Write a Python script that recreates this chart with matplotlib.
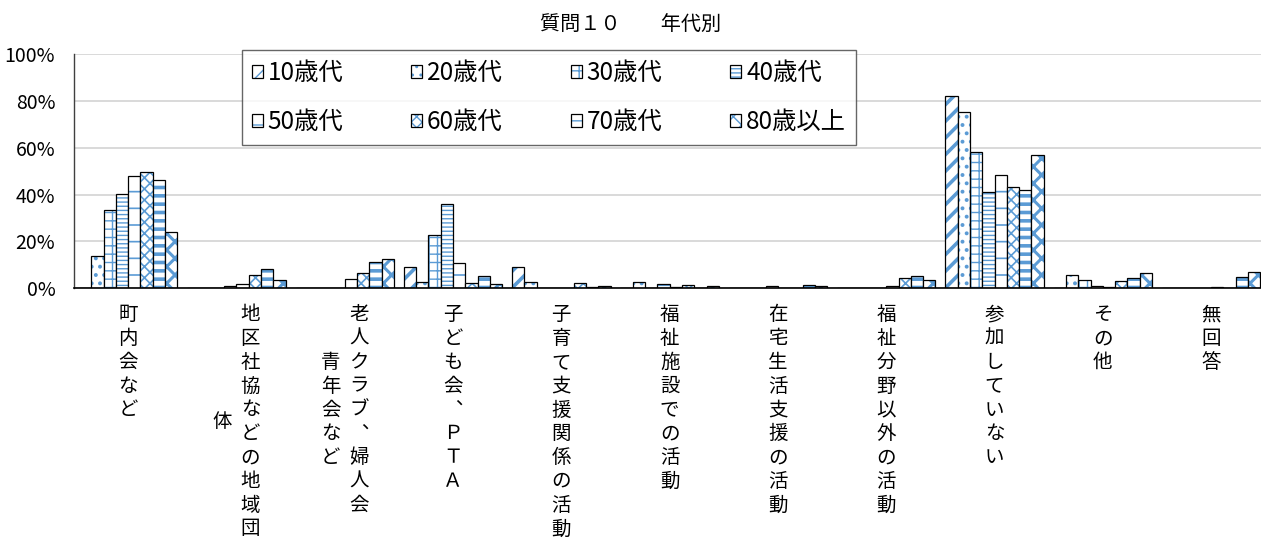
import matplotlib
matplotlib.use("Agg")
import matplotlib.pyplot as plt
import numpy as np

plt.rcParams["font.family"] = ["Noto Sans CJK JP", "DejaVu Sans"]

# 横軸の項目 (\n は縦書きラベルの改列位置)
CATEGORIES = [
    "町内会など",
    "地区社協などの地域団\n体",
    "老人クラブ、婦人会\n青年会など",
    "子ども会、ＰＴＡ",
    "子育て支援関係の活動",
    "福祉施設での活動",
    "在宅生活支援の活動",
    "福祉分野以外の活動",
    "参加していない",
    "その他",
    "無回答",
]
AGE_GROUPS = ["10歳代", "20歳代", "30歳代", "40歳代", "50歳代", "60歳代", "70歳代", "80歳以上"]

# 各年代の割合 (%)
AGE_10 = [0, 0, 0, 9.2, 9.2, 0, 0, 0, 82.0, 0, 0]
AGE_20 = [13.8, 0, 0, 2.8, 2.8, 2.8, 0, 0, 75.1, 5.5, 0]
AGE_30 = [33.3, 0, 0, 22.9, 0, 0, 0, 0, 58.1, 3.5, 0]
AGE_40 = [40.3, 1.0, 0, 36.1, 0, 1.8, 1.0, 0, 41.2, 1.0, 0]
AGE_50 = [47.8, 1.8, 3.8, 10.7, 0, 0.7, 0, 0.8, 48.5, 0.7, 0.7]
AGE_60 = [49.5, 5.7, 6.4, 2.4, 2.1, 1.4, 0, 4.4, 43.1, 3.1, 0]
AGE_70 = [46.3, 8.1, 11.4, 5.2, 0.6, 0, 1.4, 5.1, 41.8, 4.2, 4.7]
AGE_80 = [24.1, 3.5, 12.4, 1.8, 1.0, 1.0, 1.1, 3.6, 57.0, 6.4, 6.8]
SERIES = [AGE_10, AGE_20, AGE_30, AGE_40, AGE_50, AGE_60, AGE_70, AGE_80]
Y_TICKS = [0, 20, 40, 60, 80, 100]

BLUE = "#5B9BD5"
HATCHES = ["//", "..", "++", "----", "-", "xxx", "--", "xx"]
HATCH_LW = [2.6, 1.6, 1.0, 1.0, 1.2, 1.2, 2.6, 2.2]
BAR_W = 0.1136
PITCH = 23.8  # 縦書きの文字送り (px)
COL_GAP = 28  # 縦書きの列間隔 (px)


def vertical_label(ax, i, text):
    cols = text.split("\n")
    longest = max(len(c) for c in cols)
    for j, col in enumerate(cols):
        dx = ((len(cols) - 1) / 2 - j) * COL_GAP
        shift = (longest - len(col)) * PITCH / 2
        for k, ch in enumerate(col):
            ax.annotate(ch.replace("、", "︑"), xy=(i, 0), xycoords=("data", "axes fraction"),
                        xytext=(dx, -16 - shift - k * PITCH), textcoords="offset pixels",
                        ha="center", va="top", fontsize=14, annotation_clip=False)


def main():
    fig = plt.figure(figsize=(12.61, 5.40), dpi=100)
    ax = fig.add_axes([74 / 1261, (540 - 288.3) / 540, 11 * 108.3 / 1261, 234.3 / 540])

    x = np.arange(len(CATEGORIES))
    handles = []
    for k, vals in enumerate(SERIES):
        pos = x + (k - 3.5) * BAR_W
        hb = ax.bar(pos, vals, BAR_W, color="white", edgecolor=BLUE, hatch=HATCHES[k], linewidth=0)
        for p in hb:
            if hasattr(p, "set_hatch_linewidth"):
                p.set_hatch_linewidth(HATCH_LW[k])
        ob = ax.bar(pos, vals, BAR_W, fill=False, edgecolor="black", linewidth=0.9)
        handles.append((hb, ob))

    ax.set_xlim(-0.5, len(CATEGORIES) - 0.5)
    ax.set_ylim(0, 100)
    ax.set_yticks(Y_TICKS)
    ax.set_yticklabels([f"{v}%" for v in Y_TICKS], fontsize=14)
    ax.set_xticks([])
    ax.tick_params(axis="y", length=0, pad=13.5)
    ax.yaxis.grid(True, color="#D9D9D9", linewidth=1.4)
    ax.set_axisbelow(True)
    for s in ["top", "right"]:
        ax.spines[s].set_visible(False)
    ax.spines["left"].set_color("#404040")
    ax.spines["left"].set_linewidth(1.0)
    ax.spines["bottom"].set_color("black")
    ax.spines["bottom"].set_linewidth(1.2)

    for i, label in enumerate(CATEGORIES):
        vertical_label(ax, i, label)

    # 凡例は行方向に並べる (matplotlib は列方向に詰めるので並べ替える)
    order = [0, 4, 1, 5, 2, 6, 3, 7]
    leg = fig.legend([handles[k] for k in order], [AGE_GROUPS[k] for k in order],
                     loc="upper left", bbox_to_anchor=(242 / 1261, 1 - 50 / 540),
                     ncol=4, fontsize=17.5, frameon=True, fancybox=False, handlelength=0.45,
                     handleheight=0.45, handletextpad=0.2, columnspacing=2.8, labelspacing=0.95,
                     borderpad=0.4, borderaxespad=0)
    leg.get_frame().set_edgecolor("#404040")
    leg.get_frame().set_linewidth(1.0)

    fig.text(0.5, 1 - 25 / 540, "質問１０　　年代別", ha="center", va="center", fontsize=14.5)

    fig.savefig("out.png", dpi=100)


if __name__ == "__main__":
    main()
